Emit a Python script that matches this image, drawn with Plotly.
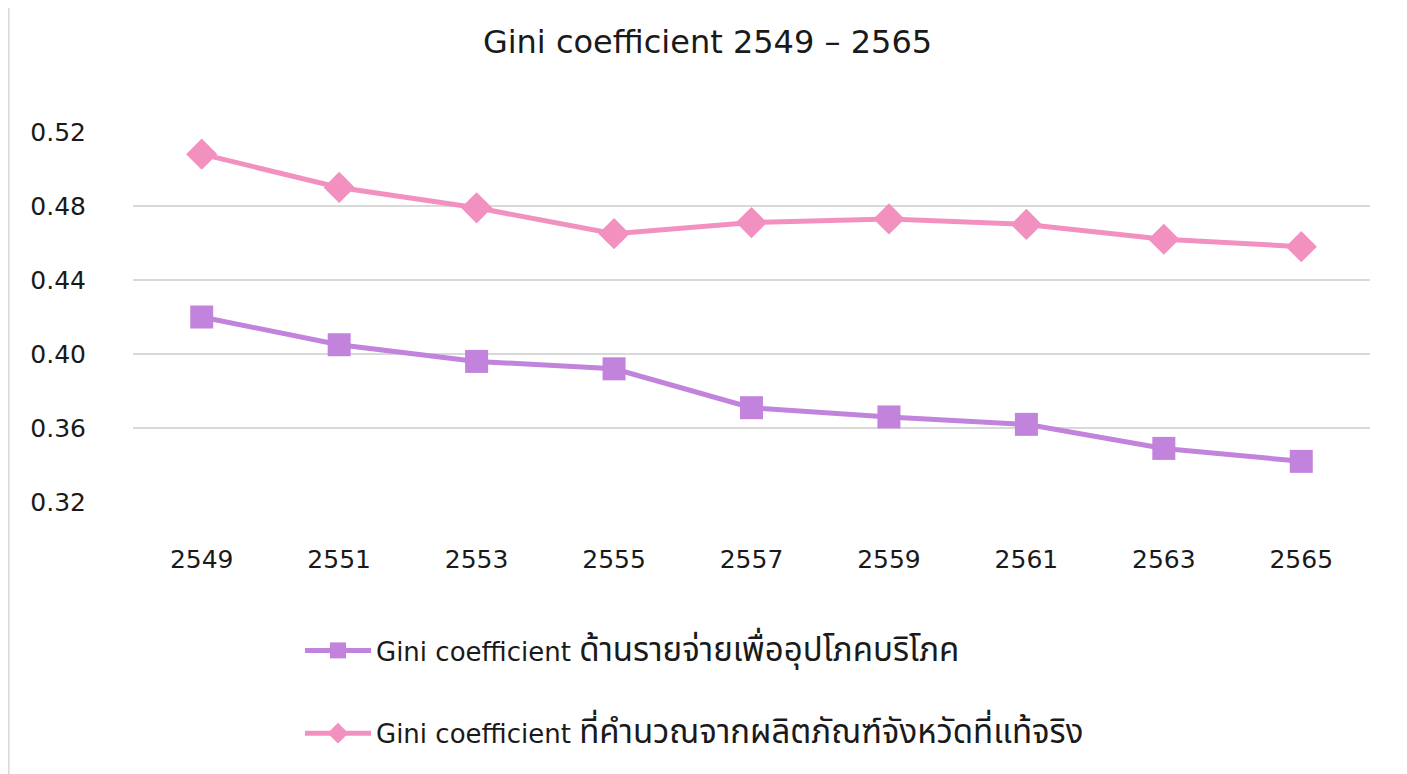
import plotly.graph_objects as go

years = ["2549", "2551", "2553", "2555", "2557", "2559", "2561", "2563", "2565"]
gini_consumption = [0.420, 0.405, 0.396, 0.392, 0.371, 0.366, 0.362, 0.349, 0.342]
gini_gpp = [0.508, 0.490, 0.479, 0.465, 0.471, 0.473, 0.470, 0.462, 0.458]
y_ticks = [0.32, 0.36, 0.40, 0.44, 0.48, 0.52]

thai_consumption = "ด้านรายจ่ายเพื่ออุปโภคบริโภค"
thai_gpp = "ที่คำนวณจากผลิตภัณฑ์จังหวัดที่แท้จริง"
name_consumption = "Gini coefficient <span style='font-size:33px'>" + thai_consumption + "</span>"
name_gpp = "Gini coefficient <span style='font-size:33px'>" + thai_gpp + "</span>"

purple = "#C183DB"
pink = "#F291C0"
FONT = "DejaVu Sans, Noto Sans Thai, sans-serif"
TXT = "#1a1a1a"

W, H = 1399, 766  # page body has an 8px margin
L, R, T, B = 125, 37, 123, 271

fig = go.Figure()
fig.add_trace(go.Scatter(
    x=years, y=gini_consumption, name=name_consumption, mode="lines+markers",
    line=dict(color=purple, width=5),
    marker=dict(symbol="square", size=23, color=purple),
    legendgroup="a",
))
fig.add_trace(go.Scatter(
    x=years, y=gini_gpp, name=name_gpp, mode="lines+markers",
    line=dict(color=pink, width=5),
    marker=dict(symbol="diamond", size=24, color=pink),
    legendgroup="b",
))

ph = H - T - B
pw = W - L - R

fig.update_layout(
    width=W, height=H,
    margin=dict(l=L, r=R, t=T, b=B),
    paper_bgcolor="white", plot_bgcolor="white",
    font=dict(family=FONT, size=25, color=TXT),
    title=dict(text="Gini coefficient 2549 – 2565", x=0.5, xanchor="center",
               y=1 - 34 / H, yanchor="middle", yref="container",
               font=dict(size=32, color=TXT)),
    xaxis=dict(type="category", range=[-0.5, 8.5], showgrid=False, showline=False,
               ticks="", ticklabelstandoff=39, tickfont=dict(size=25)),
    yaxis=dict(range=[0.3195, 0.5205], tickvals=y_ticks, tickformat=".2f",
               showgrid=True, gridcolor="#d9d9d9", gridwidth=1.5,
               zeroline=False, showline=False, ticks="", ticklabelstandoff=46,
               tickfont=dict(size=25)),
    showlegend=True,
    legend=dict(x=(292 - L) / pw, xanchor="left", y=(T + ph - 619) / ph, yanchor="top",
                orientation="v", traceorder="grouped", tracegroupgap=46,
                itemwidth=66, font=dict(size=26), bgcolor="rgba(0,0,0,0)"),
    shapes=[
        dict(type="line", xref="paper", yref="paper",
             x0=(0.8 - L) / pw, x1=(0.8 - L) / pw, y0=(T + ph) / ph, y1=(T + ph - H) / ph,
             line=dict(color="#d9d9d9", width=1.5)),
        dict(type="line", xref="paper", yref="paper",
             x0=(1394 - L) / pw, x1=(1394 - L) / pw, y0=(T + ph) / ph, y1=(T + ph - H) / ph,
             line=dict(color="#d9d9d9", width=1.5)),
    ],
)

fig.write_html("out.html")
